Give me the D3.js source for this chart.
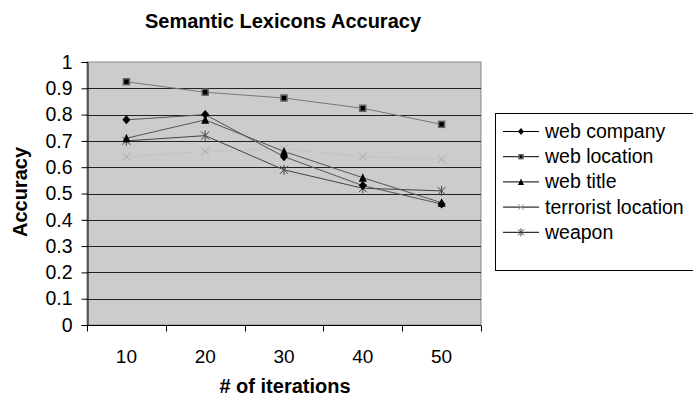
<!DOCTYPE html>
<html>
<head>
<meta charset="utf-8">
<script src="https://cdn.jsdelivr.net/npm/d3@7"></script>
<style>
  html, body { margin: 0; padding: 0; background: #fff; }
  svg { display: block; font-family: "Liberation Sans", Arial, sans-serif; }
</style>
</head>
<body>
<svg id="chart" width="693" height="402"></svg>
<script>
// Iteration categories along the x axis
const iterations = ["10", "20", "30", "40", "50"];

// Accuracy per semantic lexicon
const webCompany = [0.78, 0.80, 0.64, 0.53, 0.46];
const webLocation = [0.925, 0.885, 0.863, 0.824, 0.763];
const webTitle = [0.71, 0.78, 0.66, 0.56, 0.465];
const terroristLocation = [0.64, 0.66, 0.67, 0.64, 0.63];
const weapon = [0.70, 0.72, 0.59, 0.52, 0.51];

const seriesNames = ["web company", "web location", "web title", "terrorist location", "weapon"];
const yTicks = [0, 0.1, 0.2, 0.3, 0.4, 0.5, 0.6, 0.7, 0.8, 0.9, 1];

const series = [
  { name: seriesNames[0], values: webCompany, marker: "diamond", line: "#555", fill: "#000" },
  { name: seriesNames[1], values: webLocation, marker: "square", line: "#777", fill: "#000" },
  { name: seriesNames[2], values: webTitle, marker: "triangle", line: "#555", fill: "#000" },
  { name: seriesNames[3], values: terroristLocation, marker: "cross", line: "#c4c4c4", fill: "#aaa" },
  { name: seriesNames[4], values: weapon, marker: "star", line: "#444", fill: "#444" }
];

const svg = d3.select("#chart");
const plot = { left: 87, right: 481, top: 62, bottom: 325 };

const x = d3.scaleBand().domain(iterations).range([plot.left, plot.right]);
const y = d3.scaleLinear().domain([0, 1]).range([plot.bottom, plot.top]);

// Plot background
svg.append("rect")
  .attr("x", plot.left).attr("y", plot.top)
  .attr("width", plot.right - plot.left).attr("height", plot.bottom - plot.top)
  .attr("fill", "#cccccc").attr("stroke", "#888").attr("stroke-width", 1);

// Horizontal gridlines
svg.append("g").selectAll("line").data(yTicks.filter(d => d > 0 && d < 1)).join("line")
  .attr("x1", plot.left).attr("x2", plot.right)
  .attr("y1", d => Math.round(y(d)) + 0.5).attr("y2", d => Math.round(y(d)) + 0.5)
  .attr("stroke", "#222").attr("stroke-width", 1);

// Y axis
const yAxis = svg.append("g")
  .attr("transform", `translate(${plot.left + 0.5},0)`)
  .call(d3.axisLeft(y).tickValues(yTicks).tickFormat(d3.format("~g")).tickSize(6).tickPadding(9));
yAxis.selectAll("text").attr("font-size", 19.5).attr("fill", "#000")
  .attr("font-family", "Liberation Sans, Arial, sans-serif");
yAxis.selectAll("line, path").attr("stroke", "#000");

// X axis (ticks at category boundaries)
const xAxisG = svg.append("g").attr("transform", `translate(0,${plot.bottom + 0.5})`);
xAxisG.append("line").attr("x1", plot.left).attr("x2", plot.right).attr("stroke", "#000");
const bounds = iterations.map(d => x(d)).concat([x(iterations[iterations.length - 1]) + x.bandwidth()]);
xAxisG.selectAll("line.tick").data(bounds).join("line").attr("class", "tick")
  .attr("x1", d => Math.round(d) + 0.5).attr("x2", d => Math.round(d) + 0.5)
  .attr("y1", 0).attr("y2", 6).attr("stroke", "#000");
xAxisG.selectAll("text").data(iterations).join("text")
  .attr("x", d => x(d) + x.bandwidth() / 2).attr("y", 37)
  .attr("text-anchor", "middle").attr("font-size", 19).text(d => d);

// Marker shapes
function drawMarker(g, type, fill, size) {
  const h = size / 2;
  if (type === "diamond") {
    g.append("path").attr("d", `M0,${-h - 0.5}L${h},0L0,${h + 0.5}L${-h},0Z`).attr("fill", fill);
  } else if (type === "square") {
    g.append("rect").attr("x", -h).attr("y", -h).attr("width", size).attr("height", size)
      .attr("fill", fill).attr("stroke", "#666").attr("stroke-width", 1.5);
  } else if (type === "triangle") {
    g.append("path").attr("d", `M0,${-h - 0.5}L${h},${h}L${-h},${h}Z`).attr("fill", fill);
  } else if (type === "cross") {
    g.append("path").attr("d", `M${-h},${-h}L${h},${h}M${-h},${h}L${h},${-h}`)
      .attr("stroke", fill).attr("stroke-width", 1).attr("fill", "none");
  } else if (type === "star") {
    g.append("path").attr("d", `M${-h},${-h}L${h},${h}M${-h},${h}L${h},${-h}M0,${-h - 1}L0,${h + 1}`)
      .attr("stroke", fill).attr("stroke-width", 1).attr("fill", "none");
  }
}

const line = d3.line().x((d, i) => x(iterations[i]) + x.bandwidth() / 2).y(d => y(d));

// Draw lighter series first so darker ones sit on top
const drawOrder = [3, 1, 4, 2, 0];
drawOrder.forEach(idx => {
  const s = series[idx];
  svg.append("path").datum(s.values)
    .attr("d", line).attr("fill", "none").attr("stroke", s.line).attr("stroke-width", 1);
});
drawOrder.forEach(idx => {
  const s = series[idx];
  s.values.forEach((v, i) => {
    const g = svg.append("g")
      .attr("transform", `translate(${x(iterations[i]) + x.bandwidth() / 2},${y(v)})`);
    drawMarker(g, s.marker, s.fill, s.marker === "square" ? 6 : 8);
  });
});

// Title and axis labels
svg.append("text").attr("x", 283).attr("y", 28).attr("text-anchor", "middle")
  .attr("font-size", 20).attr("font-weight", "bold").text("Semantic Lexicons Accuracy");
svg.append("text").attr("x", 285).attr("y", 393).attr("text-anchor", "middle")
  .attr("font-size", 20).attr("font-weight", "bold").text("# of iterations");
svg.append("text").attr("transform", "translate(27,192) rotate(-90)").attr("text-anchor", "middle")
  .attr("font-size", 20).attr("font-weight", "bold").text("Accuracy");

// Legend
const legend = svg.append("g");
legend.append("rect").attr("x", 495.5).attr("y", 113.5).attr("width", 210).attr("height", 157)
  .attr("fill", "#fff").attr("stroke", "#000").attr("stroke-width", 1);
series.forEach((s, i) => {
  const ly = 131 + i * 25.2;
  const g = legend.append("g").attr("transform", `translate(0,${ly})`);
  g.append("line").attr("x1", 503).attr("x2", 539).attr("y1", 0.5).attr("y2", 0.5)
    .attr("stroke", "#000").attr("stroke-width", 1);
  const m = g.append("g").attr("transform", "translate(521,0.5)");
  drawMarker(m, s.marker, s.marker === "cross" ? "#999" : s.fill, s.marker === "square" ? 4 : 6);
  g.append("text").attr("x", 545).attr("y", 7).attr("font-size", 19.5).text(s.name);
});
</script>
</body>
</html>
